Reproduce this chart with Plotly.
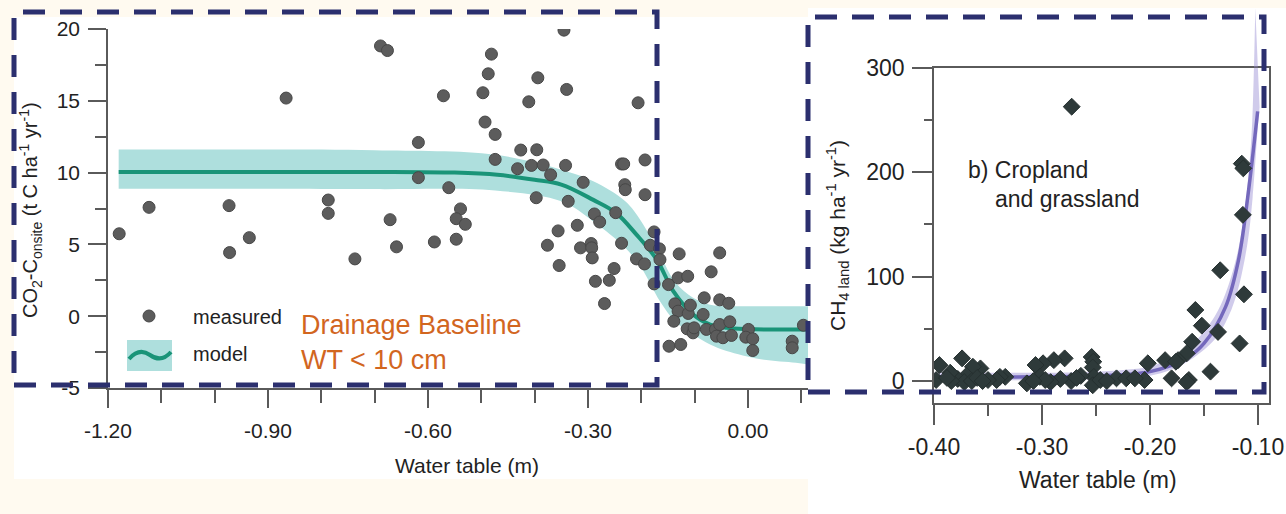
import plotly.graph_objects as go

# ---------------- data: panel a (CO2 onsite vs water table) ----------------
co2_wt = [-1.179, -1.123, -0.973, -0.972, -0.935, -0.866, -0.787, -0.787, -0.689, -0.676,
          -0.737, -0.671, -0.659, -0.618, -0.618, -0.588, -0.571, -0.561, -0.539, -0.547,
          -0.530, -0.547, -0.497, -0.487, -0.481, -0.493, -0.474, -0.474, -0.432, -0.426,
          -0.396, -0.406, -0.384, -0.370, -0.397, -0.411, -0.394, -0.345, -0.340, -0.342,
          -0.337, -0.356, -0.376, -0.354, -0.206, -0.309, -0.320, -0.288, -0.278, -0.314,
          -0.294, -0.293, -0.292, -0.286, -0.269, -0.260, -0.251, -0.237, -0.233, -0.231,
          -0.230, -0.193, -0.193, -0.248, -0.237, -0.209, -0.194, -0.176, -0.183, -0.166,
          -0.165, -0.176, -0.149, -0.129, -0.131, -0.113, -0.137, -0.131, -0.112, -0.108,
          -0.139, -0.114, -0.103, -0.101, -0.148, -0.126, -0.082, -0.069, -0.053, -0.053,
          -0.036, -0.084, -0.078, -0.061, -0.053, -0.034, -0.059, -0.047, -0.031, 0.001,
          -0.004, 0.009, 0.009, 0.083, 0.083, 0.104]
co2_val = [5.74, 7.58, 7.70, 4.43, 5.47, 15.19, 8.09, 7.16, 18.82, 18.50,
           3.99, 6.72, 4.83, 12.10, 9.65, 5.17, 15.35, 8.95, 7.47, 6.79,
           6.40, 5.36, 15.56, 16.88, 18.25, 13.52, 12.66, 10.92, 10.27, 11.57,
           11.59, 10.50, 10.53, 9.85, 8.25, 14.93, 16.60, 19.92, 15.79, 10.50,
           8.00, 5.94, 4.94, 3.53, 14.86, 9.32, 6.33, 7.12, 6.56, 4.76,
           5.06, 4.76, 4.06, 2.43, 0.88, 2.50, 3.32, 10.60, 10.60, 9.16,
           8.81, 10.88, 8.46, 7.21, 5.08, 3.99, 3.64, 5.87, 4.94, 4.69,
           3.94, 2.25, 2.20, 4.34, 2.67, 2.78, 0.86, 0.35, 0.19, 0.77,
           -0.35, -0.88, -1.16, -0.81, -2.09, -1.97, 1.28, 3.09, 4.41, 1.14,
           0.90, 0.12, -0.92, -0.92, -0.58, -0.39, -1.39, -1.50, -1.34, -0.92,
           -1.46, -1.57, -2.39, -1.74, -2.20, -0.63]

co2_model_x = [-1.18, -0.90, -0.70, -0.55, -0.47, -0.40, -0.35, -0.29, -0.248, -0.209,
               -0.171, -0.14, -0.103, -0.071, -0.04, 0.0, 0.05, 0.113]
co2_model_y = [10.05, 10.05, 10.05, 10.0, 9.85, 9.5, 9.16, 8.1, 7.21, 5.68,
               3.94, 1.74, 0.12, -0.58, -0.81, -0.9, -0.93, -0.93]
co2_up_x = [-1.18, -0.90, -0.70, -0.474, -0.35, -0.29, -0.23, -0.20, -0.165, -0.137,
            -0.103, -0.071, -0.04, 0.02, 0.113]
co2_up_y = [11.6, 11.6, 11.55, 11.24, 10.2, 9.4, 8.0, 6.6, 4.3, 2.4,
            1.28, 0.8, 0.7, 0.7, 0.7]
co2_lo_x = [-1.18, -0.90, -0.70, -0.474, -0.35, -0.29, -0.23, -0.20, -0.165, -0.137,
            -0.103, -0.071, -0.04, 0.024, 0.09, 0.113]
co2_lo_y = [8.88, 8.88, 8.85, 8.75, 8.0, 6.6, 4.76, 3.37, 1.04, -0.35,
            -1.27, -1.97, -2.43, -3.0, -3.24, -3.36]

co2_xticks = [-1.2, -0.9, -0.6, -0.3, 0.0]
co2_xticklabels = ["-1.20", "-0.90", "-0.60", "-0.30", "0.00"]
co2_xminor = [-1.1, -1.0, -0.8, -0.7, -0.5, -0.4, -0.2, -0.1, 0.1]
co2_yticks = [-5, 0, 5, 10, 15, 20]
co2_yticklabels = ["-5", "0", "5", "10", "15", "20"]
co2_yminor = [-2.5, 2.5, 7.5, 12.5, 17.5]

# ---------------- data: panel b (CH4 land vs water table) ----------------
ch4_wt = [-0.2725, -0.115, -0.1136, -0.114, -0.135, -0.113, -0.137, -0.117, -0.144, -0.158,
          -0.152, -0.161, -0.166, -0.174, -0.186, -0.180, -0.164, -0.176, -0.166, -0.202,
          -0.205, -0.231, -0.222, -0.214, -0.254, -0.2525, -0.253, -0.252, -0.253, -0.279,
          -0.289, -0.299, -0.306, -0.302, -0.314, -0.264, -0.273, -0.283, -0.292, -0.297,
          -0.308, -0.334, -0.339, -0.342, -0.350, -0.357, -0.364, -0.374, -0.370, -0.378,
          -0.372, -0.365, -0.360, -0.384, -0.385, -0.395, -0.398, -0.388, -0.355, -0.268,
          -0.246, -0.240]
ch4_val = [262.5, 208, 203.5, 159, 106, 83, 47, 36, 9, 68,
           53, 37.6, 26.5, 20, 20, 2.6, 1, 18.5, -1, 17,
           1, 2.6, 2.6, 2.6, 23, 18.5, 13, 4, -4, 21.7,
           20, 17, 15.3, 4, -2.2, 5, 0, 2, -1, 1,
           0, 4, 4, 1, 1, 12.1, 13.7, 21.7, 5, 2,
           -1, 0, 3, 0, 8, 15.3, 1, 3, 0, 3,
           1, 0]

ch4_model_x = [-0.40, -0.30, -0.25, -0.22, -0.20, -0.18, -0.167, -0.15, -0.13, -0.118,
               -0.109, -0.1003]
ch4_model_y = [4, 4, 5, 6.5, 9, 15, 21, 36, 71, 116,
               180, 258]
ch4_up_x = [-0.40, -0.30, -0.25, -0.22, -0.20, -0.18, -0.16, -0.14, -0.13, -0.12,
            -0.115, -0.11, -0.106, -0.104, -0.1025]
ch4_up_y = [8, 8, 9, 11, 14, 22, 36, 62, 84, 118,
            145, 185, 235, 290, 357]
ch4_lo_x = [-0.40, -0.30, -0.22, -0.20, -0.18, -0.16, -0.14, -0.13, -0.12, -0.11,
            -0.105, -0.10, -0.0985]
ch4_lo_y = [1, 1, 3, 5, 11, 22, 40, 56, 82, 130,
            175, 245, 262]

ch4_xticks = [-0.4, -0.3, -0.2, -0.1]
ch4_xticklabels = ["-0.40", "-0.30", "-0.20", "-0.10"]
ch4_xminor = [-0.35, -0.25, -0.15]
ch4_yticks = [0, 100, 200, 300]
ch4_yticklabels = ["0", "100", "200", "300"]
ch4_yminor = [50, 150, 250]

# ---------------- layout helpers (pixel -> paper) ----------------
W, H = 1286, 514


def fx(px):
    return px / W


def fy(py):
    return 1 - py / H


FONT = "Liberation Sans, Arial, Helvetica, sans-serif"
AXC = "#5a5a5a"
TXT = "#222222"
CREAM = "#FFFAF0"
NAVY = "#2B2F6E"

fig = go.Figure()

# ---- panel a traces ----
fig.add_trace(go.Scatter(x=co2_lo_x, y=co2_lo_y, mode="lines", line=dict(width=0, shape="spline"),
                         hoverinfo="skip", showlegend=False, xaxis="x", yaxis="y"))
fig.add_trace(go.Scatter(x=co2_up_x, y=co2_up_y, mode="lines", line=dict(width=0, shape="spline"),
                         fill="tonexty", fillcolor="#AEDFDD", hoverinfo="skip",
                         showlegend=False, xaxis="x", yaxis="y"))
fig.add_trace(go.Scatter(x=co2_model_x, y=co2_model_y, mode="lines",
                         line=dict(color="#1A9478", width=4, shape="spline"),
                         name="model", showlegend=False, xaxis="x", yaxis="y"))
fig.add_trace(go.Scatter(x=co2_wt, y=co2_val, mode="markers",
                         marker=dict(size=12, color="#5c5c5c", line=dict(color="#474747", width=1)),
                         name="measured", showlegend=False, xaxis="x", yaxis="y"))

# ---- panel b traces ----
band_col = "rgba(150,140,210,0.45)"
for xa, ya in (("x2", "y2"), ("x3", "y3")):
    fig.add_trace(go.Scatter(x=ch4_lo_x, y=ch4_lo_y, mode="lines", line=dict(width=0, shape="spline"),
                             hoverinfo="skip", showlegend=False, xaxis=xa, yaxis=ya))
    fig.add_trace(go.Scatter(x=ch4_up_x, y=ch4_up_y, mode="lines", line=dict(width=0, shape="spline"),
                             fill="tonexty", fillcolor=band_col, hoverinfo="skip",
                             showlegend=False, xaxis=xa, yaxis=ya))
fig.add_trace(go.Scatter(x=ch4_model_x, y=ch4_model_y, mode="lines",
                         line=dict(color="#7468BC", width=3.5, shape="spline"),
                         showlegend=False, xaxis="x2", yaxis="y2"))
fig.add_trace(go.Scatter(x=ch4_wt, y=ch4_val, mode="markers",
                         marker=dict(symbol="diamond", size=13, color="#2E3A3A",
                                     line=dict(color="#263030", width=1)),
                         showlegend=False, xaxis="x2", yaxis="y2"))


def axis_common(ticklen, fs, standoff):
    return dict(showline=True, linecolor=AXC, linewidth=1.5, ticks="outside", ticklen=ticklen,
                tickwidth=1.5, tickcolor=AXC, tickfont=dict(family=FONT, size=fs, color=TXT),
                showgrid=False, zeroline=False, tickmode="array", ticklabelstandoff=standoff,
                fixedrange=True, automargin=False)


x1 = axis_common(18, 21, 5)
x1.update(domain=[fx(108), fx(808)], range=[-1.2, 0.1126], anchor="y",
          tickvals=co2_xticks, ticktext=co2_xticklabels,
          minor=dict(tickmode="array", tickvals=co2_xminor, ticks="outside", ticklen=13,
                     tickwidth=1.5, tickcolor=AXC, showgrid=False))
y1 = axis_common(18, 21, 4)
y1.update(domain=[fy(388), fy(29)], range=[-5, 20], anchor="x",
          tickvals=co2_yticks, ticktext=co2_yticklabels,
          minor=dict(tickmode="array", tickvals=co2_yminor, ticks="outside", ticklen=11,
                     tickwidth=1.5, tickcolor=AXC, showgrid=False))

pxu = (403 - 67.5) / 321.0
x2 = axis_common(20, 23, 3)
x2.update(domain=[fx(934), fx(1269)], range=[-0.40, -0.0898], anchor="y2", mirror=True,
          tickvals=ch4_xticks, ticktext=ch4_xticklabels,
          minor=dict(tickmode="array", tickvals=ch4_xminor, ticks="outside", ticklen=11,
                     tickwidth=1.5, tickcolor=AXC, showgrid=False))
y2 = axis_common(20, 23, 3)
y2.update(domain=[fy(403), fy(67.5)], range=[-21, 300], anchor="x2", mirror=True,
          tickvals=ch4_yticks, ticktext=ch4_yticklabels,
          minor=dict(tickmode="array", tickvals=ch4_yminor, ticks="outside", ticklen=8,
                     tickwidth=1.5, tickcolor=AXC, showgrid=False))
x3 = dict(domain=[fx(934), fx(1269)], range=[-0.40, -0.0898], anchor="y3", visible=False,
          fixedrange=True, automargin=False)
y3 = dict(domain=[fy(67.5), 1.0], range=[300, 300 + 67.5 / pxu], anchor="x3", visible=False,
          fixedrange=True, automargin=False)

shapes = [
    # white image panels
    dict(type="rect", xref="paper", yref="paper", x0=fx(14), x1=fx(808), y0=fy(479), y1=fy(17),
         fillcolor="white", line=dict(width=0), layer="below"),
    dict(type="rect", xref="paper", yref="paper", x0=fx(808), x1=1.0, y0=0.0, y1=fy(8),
         fillcolor="white", line=dict(width=0), layer="below"),
    # legend glyphs (panel a)
    dict(type="circle", xref="paper", yref="paper", x0=fx(143), x1=fx(155), y0=fy(322), y1=fy(310),
         fillcolor="#5c5c5c", line=dict(color="#474747", width=1)),
    dict(type="rect", xref="paper", yref="paper", x0=fx(127), x1=fx(172), y0=fy(371), y1=fy(340),
         fillcolor="#AEDFDD", line=dict(width=0)),
]


def ppath(points):
    # points: list of ("M"/"C", [(px,py), ...]) in pixels -> paper path
    out = []
    for cmd, pts in points:
        out.append(cmd + " ".join("%.5f,%.5f" % (fx(a), fy(b)) for a, b in pts))
    return " ".join(out)


wave = ppath([("M", [(129, 359)]),
              ("C", [(136, 351), (143, 350), (150, 355)]),
              ("C", [(157, 360), (164, 360), (171, 352)])])
shapes.append(dict(type="path", xref="paper", yref="paper", path=wave,
                   line=dict(color="#1A9478", width=4)))

# dashed highlight boxes
shapes.append(dict(type="rect", xref="paper", yref="paper", x0=fx(14), x1=fx(657), y0=fy(385), y1=fy(12),
                   line=dict(color=NAVY, width=5, dash="22px,15px"), fillcolor="rgba(0,0,0,0)",
                   layer="above"))
shapes.append(dict(type="rect", xref="paper", yref="paper", x0=fx(808), x1=fx(1264), y0=fy(392), y1=fy(17),
                   line=dict(color=NAVY, width=5, dash="22px,15px"), fillcolor="rgba(0,0,0,0)",
                   layer="above"))


def ann(text, px, py, size, color=TXT, xanchor="center", angle=0, align="center"):
    return dict(text=text, x=fx(px), y=fy(py), xref="paper", yref="paper", showarrow=False,
                xanchor=xanchor, yanchor="middle", textangle=angle, align=align,
                font=dict(family=FONT, size=size, color=color))


annotations = [
    ann("Water table (m)", 467, 465, 21),
    ann("CO<sub>2</sub>-C<sub>onsite</sub> (t C ha<sup>-1</sup> yr<sup>-1</sup>)", 30, 210, 20, angle=-90),
    ann("measured", 191, 317, 20, xanchor="left"),
    ann("model", 191, 354, 20, xanchor="left"),
    ann("Drainage Baseline<br>WT < 10 cm", 299, 342, 27, color="#D2661F", xanchor="left", align="left"),
    ann("Water table (m)", 1098, 480, 23),
    ann("CH<sub>4 land</sub> (kg ha<sup>-1</sup> yr<sup>-1</sup>)", 838, 236, 21, angle=-90),
    ann("b) Cropland", 966, 170, 23, xanchor="left"),
    ann("and grassland", 993, 199, 23, xanchor="left"),
]

fig.update_layout(
    width=W, height=H, autosize=False,
    margin=dict(l=0, r=0, t=0, b=0, pad=0, autoexpand=False),
    paper_bgcolor=CREAM, plot_bgcolor="rgba(0,0,0,0)",
    font=dict(family=FONT, color=TXT),
    showlegend=False,
    xaxis=x1, yaxis=y1, xaxis2=x2, yaxis2=y2, xaxis3=x3, yaxis3=y3,
    shapes=shapes, annotations=annotations,
)

fig.write_html("out.html", config={"displayModeBar": False, "responsive": False},
               post_script="document.body.style.margin='0';document.body.style.overflow='hidden';")
